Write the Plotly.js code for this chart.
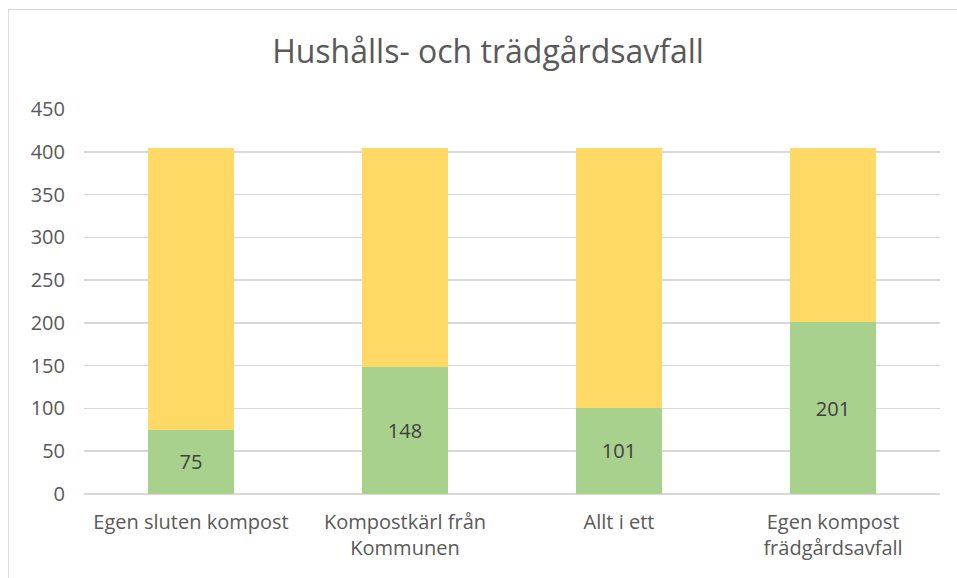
<!DOCTYPE html>
<html>
<head>
<meta charset="utf-8">
<script src="https://cdn.plot.ly/plotly-3.0.1.min.js"></script>
<style>
html,body{margin:0;padding:0;background:#fff;}
#wrap{position:relative;width:957px;height:578px;}
#chart{width:957px;height:578px;}
#frame{position:absolute;left:8px;top:9px;width:960px;height:580px;border-left:1.5px solid #d9d9d9;border-top:1.5px solid #d9d9d9;pointer-events:none;}
</style>
</head>
<body>
<div id="wrap"><div id="chart"></div><div id="frame"></div></div>
<script>
var categories = ["Egen sluten kompost", "Kompostkärl från<br>Kommunen", "Allt i ett", "Egen kompost<br>frädgårdsavfall"];
var greenValues = [75, 148, 101, 201];
var yellowValues = [329, 256, 303, 203];
var tickValues = [0, 50, 100, 150, 200, 250, 300, 350, 400, 450];

var font = "Open Sans, Noto Sans, sans-serif";
var traces = [
  {type:"bar", x:categories, y:greenValues, marker:{color:"#A9D18E"}, width:0.4,
   text:greenValues.map(String), textposition:"inside", insidetextanchor:"middle",
   textfont:{family:font, size:20, color:"#404040"}, hoverinfo:"skip", showlegend:false},
  {type:"bar", x:categories, y:yellowValues, marker:{color:"#FFD966"}, width:0.4,
   hoverinfo:"skip", showlegend:false}
];
var layout = {
  width:957, height:578, barmode:"stack",
  margin:{l:84, r:17, t:109, b:84},
  paper_bgcolor:"#fff", plot_bgcolor:"#fff",
  font:{family:font, color:"#595959"},
  title:{text:"Hushålls- och trädgårdsavfall", font:{family:font, size:32, color:"#595959"},
         xref:"paper", x:0.472, xanchor:"center", yref:"container", y:0.91, yanchor:"middle"},
  xaxis:{tickfont:{family:font, size:20, color:"#595959"}, showgrid:false, showline:false, ticks:"",
         ticklabelstandoff:14, fixedrange:true},
  yaxis:{range:[0,450], tickvals:tickValues, ticktext:tickValues.map(String),
         tickfont:{family:font, size:20, color:"#595959"}, gridcolor:"#d9d9d9", gridwidth:1.5,
         zeroline:true, zerolinecolor:"#d9d9d9", zerolinewidth:1.5, showline:false, ticks:"", ticklen:0,
         ticklabelstandoff:18, fixedrange:true}
};
Plotly.newPlot("chart", traces, layout, {displayModeBar:false, staticPlot:true});
</script>
</body>
</html>
